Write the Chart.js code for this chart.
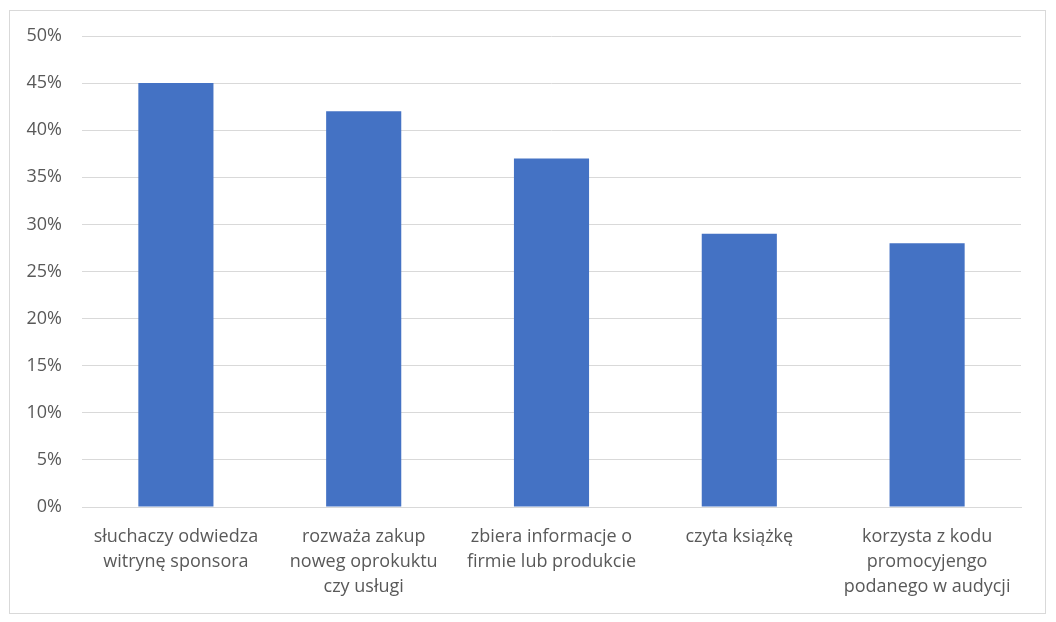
<!DOCTYPE html>
<html>
<head>
<meta charset="utf-8">
<script src="https://cdn.jsdelivr.net/npm/chart.js@4"></script>
<style>
    body { margin: 0; background: #ffffff; }
    #box {
        position: absolute;
        left: 9px;
        top: 10px;
        width: 1035px;
        height: 602px;
        border: 1px solid #d9d9d9;
    }
</style>
</head>
<body>
<div id="box"><canvas id="bar-chart"></canvas></div>
<script>
// categories (multi-line labels as in the original)
var categories = [
    ["słuchaczy odwiedza", "witrynę sponsora"],
    ["rozważa zakup", "noweg oprokuktu", "czy usługi"],
    ["zbiera informacje o", "firmie lub produkcie"],
    ["czyta książkę"],
    ["korzysta z kodu", "promocyjengo", "podanego w audycji"]
];
// share of listeners, in %
var values = [45, 42, 37, 29, 28];
var yMax = 50;
var yStep = 5;

renderChart();

function renderChart(){
    new Chart(document.getElementById("bar-chart"), {
        type: "bar",
        data: {
            labels: categories,
            datasets: [
                {
                    data: values,
                    backgroundColor: "#4472c4",
                    barPercentage: 0.4,
                    categoryPercentage: 1.0
                }
            ]
        },
        options: {
            responsive: true,
            maintainAspectRatio: false,
            animation: false,
            layout: {
                padding: { top: 25, right: 24, bottom: 0, left: 0 }
            },
            plugins: {
                legend: { display: false },
                tooltip: { enabled: false }
            },
            scales: {
                x: {
                    grid: { display: false, drawTicks: false },
                    border: { color: "#d9d9d9", width: 1 },
                    ticks: {
                        color: "#595959",
                        font: { family: "'Open Sans'", size: 18, lineHeight: 1.4 },
                        padding: 17,
                        maxRotation: 0,
                        autoSkip: false
                    },
                    afterFit: function (scale) { scale.height = 106; }
                },
                y: {
                    min: 0,
                    max: yMax,
                    grid: { color: "#d9d9d9", drawTicks: false },
                    border: { display: false },
                    ticks: {
                        stepSize: yStep,
                        color: "#595959",
                        font: { family: "'Open Sans'", size: 18 },
                        padding: 20,
                        callback: function (v) { return v + "%"; }
                    },
                    afterFit: function (scale) {
                        scale.width = 72;
                        scale.paddingTop = 0;
                        scale.paddingBottom = 0;
                    }
                }
            }
        }
    });
}
</script>
</body>
</html>
